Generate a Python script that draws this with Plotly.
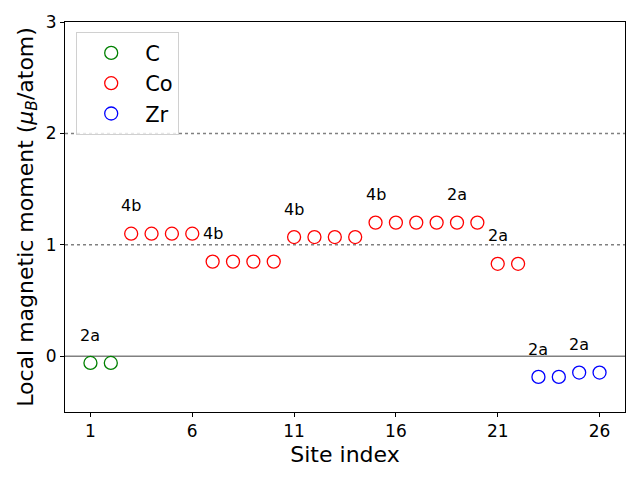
import plotly.graph_objects as go

# site indices and local moments per element
c_sites = [1, 2]
c_mom = [-0.06, -0.06]

co_sites = list(range(3, 23))
co_mom = [1.10, 1.10, 1.10, 1.10,
          0.85, 0.85, 0.85, 0.85,
          1.07, 1.07, 1.07, 1.07,
          1.20, 1.20, 1.20, 1.20, 1.20, 1.20,
          0.83, 0.83]

zr_sites = [23, 24, 25, 26]
zr_mom = [-0.185, -0.185, -0.146, -0.146]

# Wyckoff labels: (site, text)
lab_sites = [1, 3, 7, 11, 15, 19, 21, 23, 25]
lab_text = ["2a", "4b", "4b", "4b", "4b", "2a", "2a", "2a", "2a"]

xticks = [1, 6, 11, 16, 21, 26]
yticks = [0, 1, 2, 3]

allx = c_sites + co_sites + zr_sites
ally = c_mom + co_mom + zr_mom
moment_at = dict(zip(allx, ally))

fig = go.Figure()

for name, xs, ys, col in [("C", c_sites, c_mom, "#008000"),
                          ("Co", co_sites, co_mom, "#ff0000"),
                          ("Zr", zr_sites, zr_mom, "#0000ff")]:
    fig.add_trace(go.Scatter(
        x=xs, y=ys, mode="markers", name=name,
        marker=dict(symbol="circle-open", size=13, color=col, line=dict(width=1.3, color=col)),
    ))

fig.add_hline(y=0, line=dict(color="#808080", width=1.5), layer="below")
fig.add_hline(y=1, line=dict(color="#808080", width=1.5, dash="dot"), layer="below")
fig.add_hline(y=2, line=dict(color="#808080", width=1.5, dash="dot"), layer="below")

for s, t in zip(lab_sites, lab_text):
    fig.add_annotation(x=s, y=moment_at[s] + 0.25, text=t, showarrow=False,
                       xanchor="center", yanchor="middle",
                       font=dict(size=16, color="black"))

# page body has an 8px margin, so the figure is 8px smaller each way
fig.update_layout(
    width=632, height=472,
    margin=dict(l=57, r=15, t=14, b=68),
    plot_bgcolor="white", paper_bgcolor="white",
    font=dict(family="DejaVu Sans", color="black"),
    legend=dict(x=0.02, y=0.975, xanchor="left", yanchor="top",
                bordercolor="#d0d0d0", borderwidth=1, bgcolor="rgba(255,255,255,0.8)",
                font=dict(size=21), itemwidth=58),
    xaxis=dict(range=[-0.25, 27.25], tickvals=xticks, showgrid=False, zeroline=False,
               showline=True, linecolor="black", linewidth=1, mirror=True, automargin=False,
               ticks="outside", ticklen=4, tickcolor="black", tickfont=dict(size=17),
               title=dict(text="Site index", font=dict(size=22), standoff=6)),
    yaxis=dict(range=[-0.5, 3], tickvals=yticks, showgrid=False, zeroline=False,
               showline=True, linecolor="black", linewidth=1, mirror=True, automargin=False,
               ticks="outside", ticklen=4, tickcolor="black", tickfont=dict(size=17),
               title=dict(text="Local magnetic moment (<i>μ<sub>B</sub></i>/atom)",
                          font=dict(size=22), standoff=6)),
)

fig.write_html("out.html")
